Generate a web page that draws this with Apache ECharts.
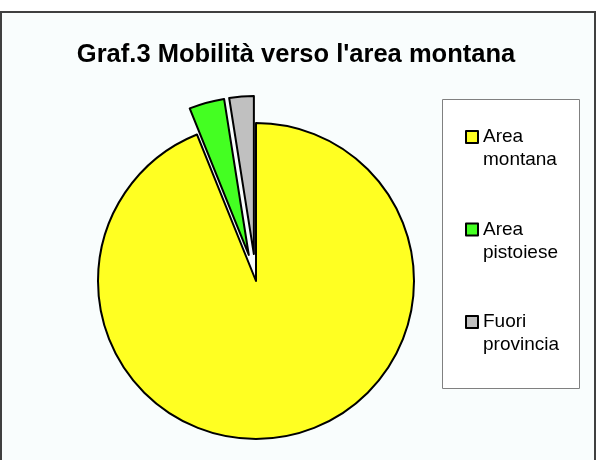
<!DOCTYPE html>
<html>
<head>
<meta charset="utf-8">
<script src="https://cdn.jsdelivr.net/npm/echarts@6/dist/echarts.min.js"></script>
<style>
html,body{margin:0;padding:0;background:#ffffff;}
#chart{width:596px;height:460px;}
</style>
</head>
<body>
<div id="chart"></div>
<script>
const titleText = "Graf.3 Mobilità verso l'area montana";
const categories = ["Area montana", "Area pistoiese", "Fuori provincia"];
const values = [93.9, 3.6, 2.5];
const colors = ["#ffff22", "#44ff22", "#c0c0c0"];
const exploded = [false, true, true];

const chart = echarts.init(document.getElementById('chart'), null, {renderer: 'canvas'});
const FONT = "'Liberation Sans', Arial, sans-serif";

const data = categories.map((name, i) => ({
  name: name,
  value: values[i],
  selected: exploded[i],
  itemStyle: {color: colors[i], borderColor: '#000', borderWidth: 2},
  select: {itemStyle: {color: colors[i], borderColor: '#000', borderWidth: 2}}
}));

chart.setOption({
  animation: false,
  backgroundColor: '#ffffff',
  graphic: [
    {type: 'rect', z: -10, shape: {x: 1, y: 12, width: 594, height: 470},
     style: {fill: '#f9fdfd', stroke: '#404040', lineWidth: 2}},
    {type: 'rect', z: -5, shape: {x: 442.5, y: 99.5, width: 137, height: 289},
     style: {fill: '#ffffff', stroke: '#808080', lineWidth: 1}}
  ],
  title: {
    text: titleText,
    left: 296,
    textAlign: 'center',
    top: 42,
    padding: 0,
    textStyle: {fontFamily: FONT, fontSize: 25.5, fontWeight: 'bold', color: '#000'}
  },
  legend: {
    orient: 'vertical',
    left: 465,
    top: 102.5,
    padding: 0,
    itemWidth: 12,
    itemHeight: 12,
    itemGap: 23.5,
    icon: 'rect',
    selectedMode: false,
    data: categories,
    itemStyle: {borderColor: '#000', borderWidth: 2},
    formatter: n => '\n' + n.replace(' ', '\n'),
    textStyle: {fontFamily: FONT, fontSize: 19, lineHeight: 23, color: '#000'}
  },
  series: [{
    type: 'pie',
    center: [256, 281],
    radius: 158,
    startAngle: 90,
    clockwise: true,
    selectedMode: 'multiple',
    selectedOffset: 27,
    label: {show: false},
    labelLine: {show: false},
    emphasis: {disabled: true},
    data: data
  }]
});
</script>
</body>
</html>
